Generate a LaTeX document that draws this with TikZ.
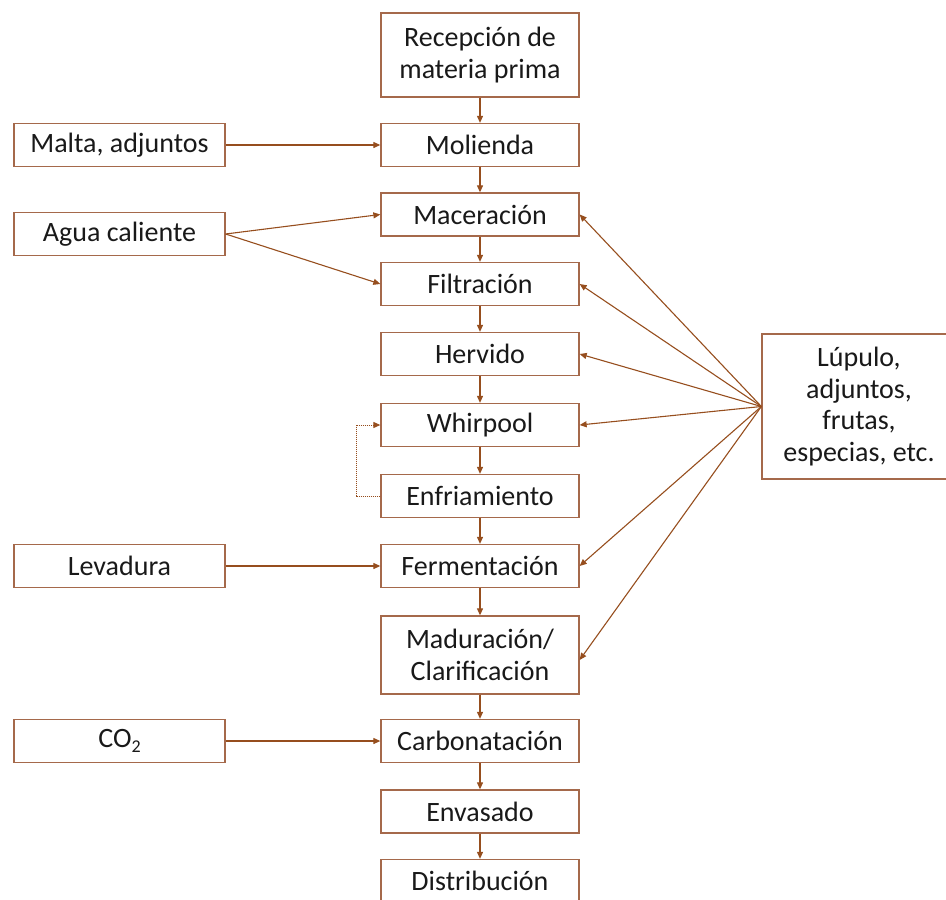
\documentclass[tikz,border=0pt]{standalone}
\usepackage{fontspec}
\setmainfont{Carlito}
\usetikzlibrary{arrows.meta}
\definecolor{brn}{RGB}{150,78,30}
\definecolor{bxc}{RGB}{165,105,75}
\definecolor{txt}{RGB}{25,25,25}
\begin{document}
\begin{tikzpicture}[x=1pt,y=-1pt,
  box/.style={draw=bxc,line width=1.3pt,inner sep=0pt,align=center,text=txt,
    font=\fontsize{28}{31.5}\selectfont,minimum height=43pt},
  mainbox/.style={box,minimum width=198pt},
  sidebox/.style={box,minimum width=211pt},
  arr/.style={draw=brn,line width=1.1pt,-{Triangle[length=7pt,width=6pt]}},
  fb/.style={draw=brn,line width=1pt,densely dotted,-{Triangle[length=7pt,width=6pt]}},
]
\useasboundingbox (0,0) rectangle (946,900);
% main column
\node[mainbox,minimum height=84pt] (rec) at (480,55) {Recepción de\\materia prima};
\node[mainbox] (mol) at (480,145) {Molienda};
\node[mainbox] (mac) at (480,214.5) {Maceración};
\node[mainbox] (fil) at (480,284) {Filtración};
\node[mainbox] (her) at (480,354) {Hervido};
\node[mainbox] (whi) at (480,425) {Whirpool};
\node[mainbox] (enf) at (480,496) {Enfriamiento};
\node[mainbox] (fer) at (480,566) {Fermentación};
\node[mainbox,minimum height=78pt] (mad) at (480,655) {Maduración/\\Clarificación};
\node[mainbox] (car) at (480,741) {Carbonatación};
\node[mainbox] (env) at (480,811.5) {Envasado};
\node[mainbox] (dis) at (480,881) {Distribución};
% side boxes
\node[sidebox] (mal) at (119.5,145) {Malta, adjuntos};
\node[sidebox] (agu) at (119.5,234) {Agua caliente};
\node[sidebox] (lev) at (119.5,566) {Levadura};
\node[sidebox] (co) at (119.5,741) {CO\raisebox{-5pt}{\fontsize{18}{18}\selectfont 2}};
\node[box,minimum width=194pt,minimum height=145pt] (lup) at (859,406.5) {Lúpulo,\\adjuntos,\\frutas,\\especias, etc.};
\coordinate (lo) at (lup.west);
% main flow
\foreach \a/\b in {rec/mol,mol/mac,mac/fil,fil/her,her/whi,whi/enf,enf/fer,fer/mad,mad/car,car/env,env/dis}
  \draw[arr] (\a.south) -- (\b.north);
% inputs
\draw[arr] (mal.east) -- (mol.west);
\draw[arr] (agu.east) -- (mac.west);
\draw[arr] (agu.east) -- (fil.west);
\draw[arr] (lev.east) -- (fer.west);
\draw[arr] (co.east) -- (car.west);
\foreach \t in {mac,fil,her,whi,fer}
  \draw[arr] (lo) -- (\t.east);
\draw[arr] (lo) -- ([yshift=-5pt]mad.east);
% feedback
\coordinate (fbc) at (356,0);
\draw[fb] (enf.west) -- (enf.west -| fbc) -- (whi.west -| fbc) -- (whi.west);
\end{tikzpicture}
\end{document}
